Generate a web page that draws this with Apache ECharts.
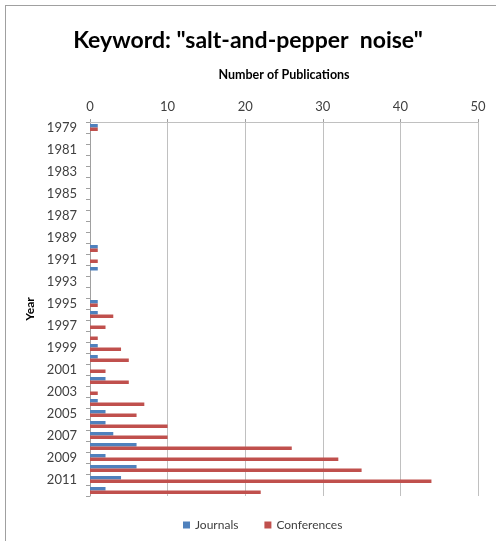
<!DOCTYPE html>
<html>
<head>
<meta charset="utf-8">
<script src="https://cdn.jsdelivr.net/npm/echarts@6/dist/echarts.min.js"></script>
<style>
  html, body { margin: 0; padding: 0; background: #fff; }
  #frame { position: absolute; left: 5px; top: 5px; width: 491px; height: 536px;
           border-left: 1px solid #a0a0a0; border-top: 1px solid #a0a0a0; }
  #chart { position: absolute; left: 0; top: 0; width: 496px; height: 541px; }
</style>
</head>
<body>
<div id="frame"></div>
<div id="chart"></div>
<script>
// Publication counts per year for the keyword search
const years = [
  '1979','1980','1981','1982','1983','1984','1985','1986','1987','1988',
  '1989','1990','1991','1992','1993','1994','1995','1996','1997','1998',
  '1999','2000','2001','2002','2003','2004','2005','2006','2007','2008',
  '2009','2010','2011','2012'
];
const journals = [
  1,0,0,0,0,0,0,0,0,0,
  0,1,0,1,0,0,1,1,0,0,
  1,1,0,2,0,1,2,2,3,6,
  2,6,4,2
];
const conferences = [
  1,0,0,0,0,0,0,0,0,0,
  0,1,1,0,0,0,1,3,2,1,
  4,5,2,5,1,7,6,10,10,26,
  32,35,44,22
];
const xTicks = [0, 50, 10];  // min, max, step

const font = 'Lato, "Open Sans", sans-serif';
const chart = echarts.init(document.getElementById('chart'));
chart.setOption({
  animation: false,
  title: {
    text: 'Keyword: "salt-and-pepper  noise"',
    left: 'center', top: 24,
    textStyle: { fontFamily: font, fontSize: 23, fontWeight: 'bold', color: '#000' }
  },
  legend: {
    bottom: 5, left: 178,
    itemWidth: 7, itemHeight: 7, itemGap: 26,
    icon: 'rect',
    textStyle: { fontFamily: font, fontSize: 12, color: '#404040' },
    data: ['Journals', 'Conferences']
  },
  grid: { left: 90, right: 18, top: 122, bottom: 45 },
  xAxis: {
    type: 'value', position: 'top',
    min: xTicks[0], max: xTicks[1], interval: xTicks[2],
    name: 'Number of Publications', nameLocation: 'middle', nameGap: 41,
    nameTextStyle: { fontFamily: font, fontSize: 12.5, fontWeight: 'bold', color: '#000' },
    axisLine: { show: true, lineStyle: { color: '#c0c0c0' } },
    axisTick: { show: true, length: 3, lineStyle: { color: '#a0a0a0' } },
    axisLabel: { fontFamily: font, fontSize: 13, color: '#404040', margin: 9 },
    splitLine: { show: true, lineStyle: { color: '#c0c0c0', width: 1 } }
  },
  yAxis: {
    type: 'category', inverse: true, data: years,
    name: 'Year', nameLocation: 'middle', nameGap: 51, nameRotate: 90,
    nameTextStyle: { fontFamily: font, fontSize: 12, fontWeight: 'bold', color: '#000' },
    axisLine: { show: true, lineStyle: { color: '#a0a0a0' } },
    axisTick: { show: true, interval: 0, length: 4, lineStyle: { color: '#a0a0a0' } },
    axisLabel: { interval: 1, fontFamily: font, fontSize: 13, color: '#404040', margin: 13 }
  },
  series: [
    { name: 'Journals', type: 'bar', data: journals, barWidth: 3.5, barGap: '0%',
      itemStyle: { color: '#4f81bd' } },
    { name: 'Conferences', type: 'bar', data: conferences, barWidth: 3.5, barGap: '0%',
      itemStyle: { color: '#c0504d' } }
  ]
});
</script>
</body>
</html>
